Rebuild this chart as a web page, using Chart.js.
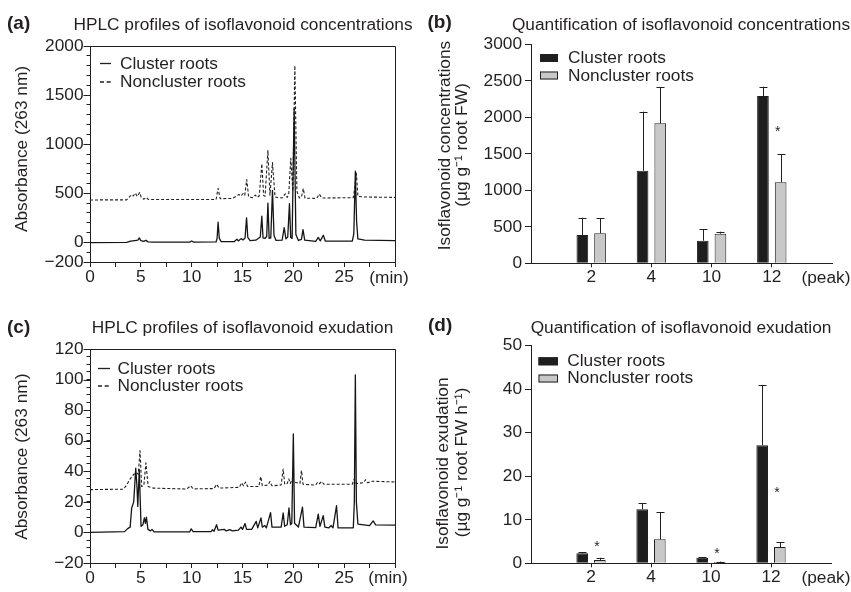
<!DOCTYPE html>
<html>
<head>
<meta charset="utf-8">
<script src="https://cdn.jsdelivr.net/npm/chart.js@4.4.0/dist/chart.umd.min.js"></script>
<style>
html,body{margin:0;padding:0;background:#fff;}
#wrap{position:relative;width:851px;height:592px;overflow:hidden;background:#fff;}
#wrap canvas{position:absolute;left:0;top:0;}
</style>
</head>
<body>
<div id="wrap">
<canvas id="cA" width="851" height="592"></canvas>
<canvas id="cB" width="851" height="592"></canvas>
<canvas id="cC" width="851" height="592"></canvas>
<canvas id="cD" width="851" height="592"></canvas>
</div>
<script>
// ---------------- DATA ----------------
// HPLC chromatogram (a): [time (min), absorbance]
const hplcConcCluster = [[0,-3],[3.6,0],[4.0,12],[4.4,18],[4.7,22],[4.85,45],[5.0,18],[5.3,10],[5.5,22],[5.7,5],[6.2,2],[9.8,2],[10.0,14],[10.2,3],[12.4,4],[12.5,40],[12.6,205],[12.72,40],[12.9,8],[14.2,8],[14.45,32],[14.6,15],[14.85,38],[15.05,25],[15.25,45],[15.4,250],[15.52,50],[15.75,18],[16.3,22],[16.55,40],[16.75,55],[16.9,268],[17.02,45],[17.2,40],[17.38,60],[17.5,400],[17.62,40],[17.78,45],[17.95,530],[18.1,70],[18.3,20],[18.9,22],[19.1,150],[19.27,35],[19.45,55],[19.62,395],[19.74,50],[19.88,40],[20.08,1365],[20.25,80],[20.5,20],[20.8,30],[20.95,130],[21.12,22],[22.2,10],[22.45,50],[22.65,15],[22.95,72],[23.15,12],[25.8,12],[25.95,90],[26.1,725],[26.22,220],[26.35,35],[27,22],[30,18]];
const hplcConcNoncluster = [[0,432],[3.6,433],[3.9,465],[4.1,485],[4.25,472],[4.45,502],[4.65,468],[4.88,508],[5.05,455],[5.3,440],[5.55,458],[5.75,436],[12.4,436],[12.6,550],[12.8,445],[14.0,447],[14.45,475],[14.65,488],[14.85,472],[15.05,498],[15.22,480],[15.42,640],[15.6,462],[16.0,456],[16.25,482],[16.45,458],[16.65,475],[16.9,800],[17.08,478],[17.22,470],[17.5,935],[17.7,480],[17.95,812],[18.2,462],[18.9,452],[19.2,495],[19.4,458],[19.55,495],[19.75,855],[19.95,520],[20.15,1800],[20.35,520],[20.6,452],[20.8,462],[20.98,548],[21.15,450],[22.3,448],[22.55,492],[22.8,452],[25.9,455],[26.05,560],[26.2,705],[26.35,468],[27,462],[30,458]];
// HPLC chromatogram (c)
const hplcExudCluster = [[0,0],[3.4,0.5],[3.7,2.5],[3.95,3.5],[4.1,16],[4.2,18],[4.3,20],[4.5,42],[4.62,30],[4.7,17],[4.85,41],[5.02,4],[5.2,5],[5.35,9.5],[5.45,6],[5.55,10],[5.7,2],[5.95,1],[6.1,2],[6.3,0.3],[9.8,0.3],[9.95,2.3],[10.15,0.5],[11.9,0.5],[12.05,1.8],[12.2,0.8],[12.45,5],[12.6,1.5],[13.2,2],[13.4,1],[13.75,1.8],[14.0,1],[14.6,1.5],[14.85,3.5],[15.0,2],[15.25,5.8],[15.4,2],[15.9,2],[16.35,7.2],[16.5,3],[16.82,9.5],[16.95,3.5],[17.2,4.5],[17.35,3],[17.76,13],[17.9,3.5],[18.8,3.5],[19.0,12.7],[19.15,4],[19.4,5],[19.57,16],[19.72,5],[19.85,6],[20.0,64.5],[20.12,6],[20.5,3.5],[20.9,16.5],[21.05,3.5],[22.2,3.2],[22.45,12],[22.62,4],[22.94,11],[23.1,3.5],[23.5,3],[23.72,4.5],[23.9,3],[24.25,17.5],[24.4,3],[25.9,3],[26.0,20],[26.1,103],[26.2,20],[26.35,5.5],[27.5,4.5],[27.85,7.5],[28.1,5],[30,4.8]];
const hplcExudNoncluster = [[0,28],[3.3,28.3],[3.6,31],[3.95,35],[4.3,38],[4.6,39],[4.75,38],[4.92,53.5],[5.08,30],[5.3,31],[5.5,45.5],[5.72,30],[6.2,29],[9.5,28.4],[9.9,30.5],[10.15,28.5],[12.2,28.7],[12.45,31.5],[12.7,29],[14.7,29.5],[14.9,32.5],[15.1,30.5],[15.3,33],[15.5,30],[16.6,30],[16.8,36.5],[16.95,30.5],[17.5,31],[17.7,33.3],[17.9,30.5],[18.8,31],[19.0,41.5],[19.15,31.5],[19.4,32],[19.55,35],[19.7,32],[19.9,35],[20.05,33],[20.65,32],[20.8,40.5],[20.95,31.5],[22.2,31],[22.35,32.5],[22.5,31.5],[22.8,33.3],[23.0,31.5],[25.8,31.5],[26.0,35],[26.2,32],[26.9,32.5],[27.1,34.5],[27.3,32.5],[27.8,33.5],[30,33]];

const hplcXTicks = [0, 5, 10, 15, 20, 25];
const concYTicks = [-200, 0, 500, 1000, 1500, 2000];
const exudYTicks = [-20, 0, 20, 40, 60, 80, 100, 120];

// Bar quantification
const peakLabels = ['2', '4', '10', '12'];
const concCluster = [388, 1269, 310, 2292];
const concClusterErr = [237, 808, 156, 127];
const concNoncluster = [411, 1918, 406, 1109];
const concNonclusterErr = [209, 493, 27, 384];
const concStars = [null, null, null, 1850];
const concYTicksBar = [0, 500, 1000, 1500, 2000, 2500, 3000];

const exudCluster = [2.3, 12.4, 1.3, 27.1];
const exudClusterErr = [0.2, 1.4, 0.15, 13.9];
const exudNoncluster = [0.77, 5.5, 0.3, 3.74];
const exudNonclusterErr = [0.5, 6.2, 0.1, 1.06];
const exudStars = [4.8, null, 3.05, 17.0];
const exudYTicksBar = [0, 10, 20, 30, 40, 50];

// ---------------- STYLE ----------------
const FONT = "'Liberation Sans', Arial, Helvetica, sans-serif";
const INK = '#231f20';
const FS = 17.3;
const TICKFONT = { family: FONT, size: FS, weight: 'normal', lineHeight: 1.2 };
Chart.defaults.font.family = FONT;
Chart.defaults.font.size = FS;
Chart.defaults.color = INK;
Chart.defaults.animation = false;

const fmt = v => (v < 0 ? '\u2212' + Math.abs(v) : String(v));

const annot = {
  id: 'annot',
  afterDraw(chart, args, o) {
    const ctx = chart.ctx;
    const ca = chart.chartArea;
    ctx.save();
    if (o.frame) {
      ctx.strokeStyle = INK; ctx.lineWidth = 1;
      ctx.beginPath();
      ctx.moveTo(ca.left, ca.top + 0.5); ctx.lineTo(ca.right + 0.5, ca.top + 0.5);
      ctx.lineTo(ca.right + 0.5, ca.bottom);
      ctx.stroke();
    }
    if (o.majorTicks) {
      const ys = chart.scales.y;
      ctx.strokeStyle = INK; ctx.lineWidth = 1;
      o.majorTicks.forEach(v => {
        const p = Math.round(ys.getPixelForValue(v)) + 0.5;
        ctx.beginPath(); ctx.moveTo(ca.left - o.majorLen, p); ctx.lineTo(ca.left, p); ctx.stroke();
      });
    }
    (o.legend || []).forEach(l => {
      if (l.kind === 'line' || l.kind === 'dash') {
        ctx.strokeStyle = INK; ctx.lineWidth = 1.3;
        ctx.setLineDash(l.kind === 'dash' ? [4, 2.7] : []);
        ctx.beginPath(); ctx.moveTo(l.x0, l.y); ctx.lineTo(l.x1, l.y); ctx.stroke();
        ctx.setLineDash([]);
      } else {
        ctx.fillStyle = l.fill; ctx.fillRect(l.x0, l.y0, l.x1 - l.x0, l.y1 - l.y0);
        ctx.strokeStyle = INK; ctx.lineWidth = 1;
        ctx.strokeRect(l.x0 + 0.5, l.y0 + 0.5, l.x1 - l.x0 - 1, l.y1 - l.y0 - 1);
      }
    });
    (o.texts || []).forEach(t => {
      ctx.save();
      ctx.font = (t.bold ? 'bold ' : '') + (t.size || FS) + 'px ' + FONT;
      ctx.fillStyle = INK;
      ctx.textAlign = t.align || 'left';
      ctx.textBaseline = t.base || 'alphabetic';
      ctx.translate(t.x, t.y);
      if (t.rot) ctx.rotate(-Math.PI / 2);
      ctx.fillText(t.text, 0, 0);
      ctx.restore();
    });
    ctx.restore();
  }
};

const errbars = {
  id: 'errbars',
  afterDatasetsDraw(chart, args, o) {
    if (!o.errors) return;
    const ctx = chart.ctx;
    const ys = chart.scales.y, xs = chart.scales.x;
    ctx.save();
    ctx.strokeStyle = INK; ctx.lineWidth = 1;
    o.errors.forEach((errs, di) => {
      const meta = chart.getDatasetMeta(di);
      const vals = chart.data.datasets[di].data;
      meta.data.forEach((el, i) => {
        const top = ys.getPixelForValue(vals[i].y + errs[i]);
        const x = Math.round(el.x) + 0.5;
        ctx.beginPath();
        ctx.moveTo(x, el.y); ctx.lineTo(x, top);
        ctx.moveTo(x - 4, Math.round(top) + 0.5); ctx.lineTo(x + 4, Math.round(top) + 0.5);
        ctx.stroke();
      });
    });
    ctx.fillStyle = INK;
    ctx.font = '14px ' + FONT;
    ctx.textAlign = 'center';
    ctx.textBaseline = 'alphabetic';
    (o.stars || []).forEach((s, i) => {
      if (s === null) return;
      const x = xs.getPixelForValue(i + 1) + 6;
      const y = ys.getPixelForValue(s) + 0.58 * 14;
      ctx.fillText('*', x, y);
    });
    ctx.restore();
  }
};

function fitW(w) { return s => { s.width = w; }; }
function fitH(h) { return s => { s.height = h; }; }

function hplcChart(id, area, yMin, yMax, yStep, yLabels, cluster, noncluster, extra) {
  return new Chart(document.getElementById(id), {
    type: 'line',
    data: {
      datasets: [
        { data: cluster.map(p => ({ x: p[0], y: p[1] })), borderColor: '#151515', borderWidth: 1.3, pointRadius: 0, tension: 0, borderJoinStyle: 'round' },
        { data: noncluster.map(p => ({ x: p[0], y: p[1] })), borderColor: '#202020', borderWidth: 1.1, borderDash: [3, 2], pointRadius: 0, tension: 0, borderJoinStyle: 'round' }
      ]
    },
    options: {
      responsive: false, devicePixelRatio: 1, events: [],
      layout: { padding: { left: area.left - 60, right: 851 - area.right, top: area.top, bottom: 592 - area.bottom - 30 } },
      plugins: { legend: { display: false }, tooltip: { enabled: false }, annot: extra, errbars: {} },
      scales: {
        x: {
          type: 'linear', min: 0, max: 30,
          afterFit: fitH(30),
          ticks: { font: TICKFONT, color: INK, stepSize: 2.5, autoSkip: false, maxRotation: 0, padding: 0, callback: v => hplcXTicks.includes(v) ? fmt(v) : '' },
          grid: { drawOnChartArea: false, tickLength: 5, color: INK },
          border: { display: true, color: INK, width: 1 }
        },
        y: {
          type: 'linear', min: yMin, max: yMax,
          afterFit: fitW(60),
          ticks: { font: TICKFONT, color: INK, stepSize: yStep, autoSkip: false, padding: 3, callback: v => yLabels.includes(v) ? fmt(v) : '' },
          grid: { drawOnChartArea: false, tickLength: 3.5, color: INK },
          border: { display: true, color: INK, width: 1 }
        }
      }
    },
    plugins: [annot, errbars]
  });
}

function barChart(id, area, yMax, yStep, yLabels, cl, clErr, nc, ncErr, stars, extra) {
  return new Chart(document.getElementById(id), {
    type: 'bar',
    data: {
      datasets: [
        { data: cl.map((v, i) => ({ x: i + 1, y: v })), backgroundColor: '#1e1e1e', borderColor: INK, borderWidth: 1, categoryPercentage: 0.588, barPercentage: 0.66 },
        { data: nc.map((v, i) => ({ x: i + 1, y: v })), backgroundColor: '#c8c8c8', borderColor: INK, borderWidth: 1, categoryPercentage: 0.588, barPercentage: 0.66 }
      ]
    },
    options: {
      responsive: false, devicePixelRatio: 1, events: [],
      layout: { padding: { left: area.left - 60, right: 851 - area.right, top: area.top, bottom: 592 - area.bottom - 30 } },
      plugins: { legend: { display: false }, tooltip: { enabled: false }, annot: extra, errbars: { errors: [clErr, ncErr], stars: stars } },
      scales: {
        x: {
          type: 'linear', min: 0, max: peakLabels.length + 1, offset: false,
          afterFit: fitH(30),
          afterBuildTicks: s => { s.ticks = peakLabels.map((_, i) => ({ value: i + 1 })); },
          ticks: { font: TICKFONT, color: INK, autoSkip: false, maxRotation: 0, padding: 0, callback: v => peakLabels[v - 1] || '' },
          grid: { offset: false, drawOnChartArea: false, tickLength: 4, color: INK },
          border: { display: true, color: INK, width: 1 }
        },
        y: {
          type: 'linear', min: 0, max: yMax,
          afterFit: fitW(60),
          ticks: { font: TICKFONT, color: INK, stepSize: yStep, autoSkip: false, padding: 3, callback: v => yLabels.includes(v) ? fmt(v) : '' },
          grid: { drawOnChartArea: false, tickLength: 6, color: INK },
          border: { display: true, color: INK, width: 1 }
        }
      }
    },
    plugins: [annot, errbars]
  });
}

// (a)
hplcChart('cA', { left: 90, right: 395, top: 46, bottom: 262 }, -200, 2000, 100, concYTicks,
  hplcConcCluster, hplcConcNoncluster, {
    frame: true, majorTicks: concYTicks, majorLen: 6.5,
    legend: [{ kind: 'line', x0: 100, x1: 111, y: 63.5 }, { kind: 'dash', x0: 100, x1: 111, y: 82 }],
    texts: [
      { text: '(a)', x: 7, y: 29, bold: true, size: 19 },
      { text: 'HPLC profiles of isoflavonoid concentrations', x: 243, y: 30, align: 'center' },
      { text: 'Absorbance (263 nm)', x: 22, y: 149, rot: true, align: 'center', base: 'middle' },
      { text: 'Cluster roots', x: 120, y: 69 },
      { text: 'Noncluster roots', x: 120, y: 87 },
      { text: '(min)', x: 389, y: 283.3, align: 'center' }
    ]
  });

// (c)
hplcChart('cC', { left: 90, right: 395, top: 349, bottom: 563 }, -20, 120, 5, exudYTicks,
  hplcExudCluster, hplcExudNoncluster, {
    frame: true, majorTicks: exudYTicks, majorLen: 6.5,
    legend: [{ kind: 'line', x0: 98, x1: 110, y: 368.5 }, { kind: 'dash', x0: 98, x1: 110, y: 386 }],
    texts: [
      { text: '(c)', x: 7, y: 332.5, bold: true, size: 19 },
      { text: 'HPLC profiles of isoflavonoid exudation', x: 242.5, y: 333.3, align: 'center' },
      { text: 'Absorbance (263 nm)', x: 22, y: 456.7, rot: true, align: 'center', base: 'middle' },
      { text: 'Cluster roots', x: 117.5, y: 373.5 },
      { text: 'Noncluster roots', x: 117.5, y: 391 },
      { text: '(min)', x: 388, y: 583.3, align: 'center' }
    ]
  });

// (b)
barChart('cB', { left: 531, right: 832, top: 44.3, bottom: 263.3 }, 3000, 500, concYTicksBar,
  concCluster, concClusterErr, concNoncluster, concNonclusterErr, concStars, {
    legend: [{ kind: 'box', fill: '#1e1e1e', x0: 540, x1: 558, y0: 54, y1: 62 }, { kind: 'box', fill: '#c8c8c8', x0: 540, x1: 558, y0: 71.5, y1: 79.5 }],
    texts: [
      { text: '(b)', x: 427.5, y: 28, bold: true, size: 19 },
      { text: 'Quantification of isoflavonoid concentrations', x: 681, y: 30, align: 'center' },
      { text: 'Isoflavonoid concentrations', x: 445, y: 145.5, rot: true, align: 'center', base: 'middle' },
      { text: '(\u00b5g g\u207b\u00b9 root FW)', x: 462, y: 145, rot: true, align: 'center', base: 'middle' },
      { text: 'Cluster roots', x: 568, y: 63.3 },
      { text: 'Noncluster roots', x: 568, y: 80.5 },
      { text: '(peak)', x: 826, y: 283.3, align: 'center' }
    ]
  });

// (d)
barChart('cD', { left: 531, right: 831, top: 345.7, bottom: 563.3 }, 50, 10, exudYTicksBar,
  exudCluster, exudClusterErr, exudNoncluster, exudNonclusterErr, exudStars, {
    legend: [{ kind: 'box', fill: '#1e1e1e', x0: 538.5, x1: 558, y0: 357.3, y1: 365.3 }, { kind: 'box', fill: '#c8c8c8', x0: 538.5, x1: 558, y0: 374.5, y1: 382.5 }],
    texts: [
      { text: '(d)', x: 428, y: 330.5, bold: true, size: 19 },
      { text: 'Quantification of isoflavonoid exudation', x: 681, y: 333.3, align: 'center' },
      { text: 'Isoflavonoid exudation', x: 443.5, y: 463.5, rot: true, align: 'center', base: 'middle' },
      { text: '(\u00b5g g\u207b\u00b9 root FW h\u207b\u00b9)', x: 462.3, y: 462.5, rot: true, align: 'center', base: 'middle' },
      { text: 'Cluster roots', x: 567.3, y: 365.7 },
      { text: 'Noncluster roots', x: 567.3, y: 382.5 },
      { text: '(peak)', x: 826, y: 583.3, align: 'center' }
    ]
  });
</script>
</body>
</html>
